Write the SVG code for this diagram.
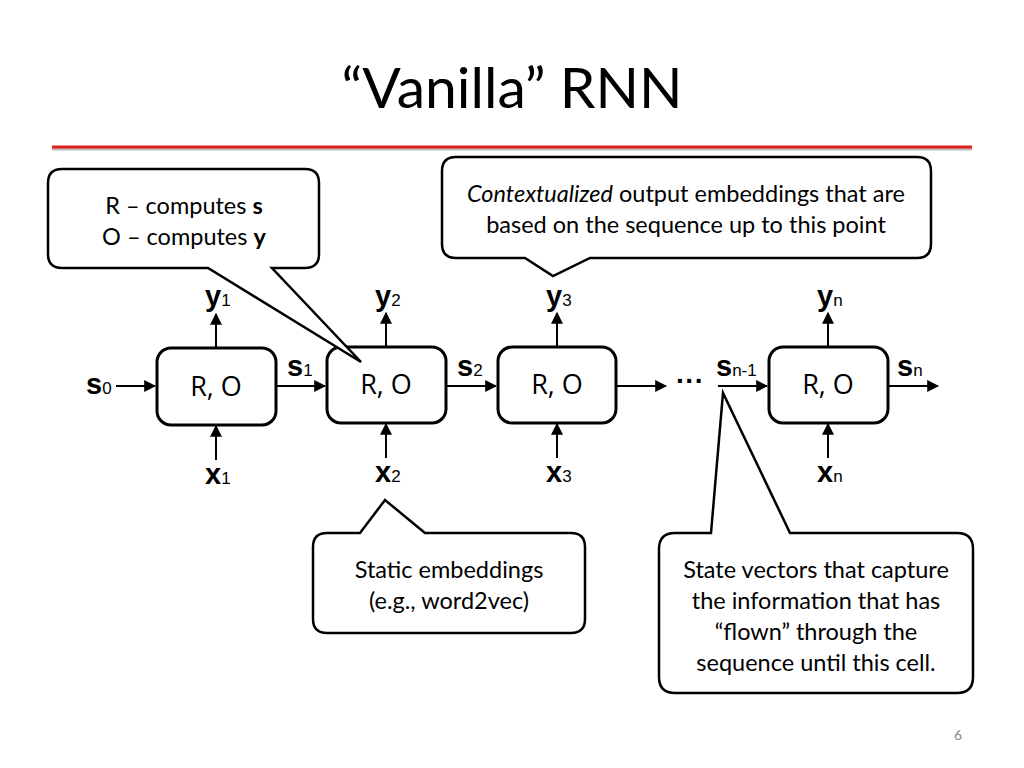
<svg xmlns="http://www.w3.org/2000/svg" width="1024" height="768" viewBox="0 0 1024 768">
<style>
.box{fill:#fff;stroke:#000;stroke-width:3}
.call{fill:#fff;stroke:#000;stroke-width:2.5;stroke-linejoin:miter}
.ln{stroke:#000;stroke-width:2;fill:none}
.t{font-family:"Open Sans","Liberation Sans",sans-serif;font-size:27px;text-anchor:middle}
.v{font-family:"Liberation Sans",sans-serif;font-weight:bold;font-size:29px}
.sub{font-family:"Liberation Sans",sans-serif;font-size:17px;font-weight:normal}
.c{font-family:Lato,"Liberation Sans",sans-serif;font-size:23.5px;text-anchor:middle}
</style>
<defs><marker id="a" viewBox="0 0 10 10" refX="9" refY="5" markerWidth="6" markerHeight="6" orient="auto"><path d="M0,0L10,5L0,10z"/></marker></defs>
<rect width="1024" height="768" fill="#fff"/>
<text x="512" y="108" font-family="Lato,'Liberation Sans',sans-serif" font-size="57" text-anchor="middle">“Vanilla” RNN</text>
<line x1="52" y1="149" x2="972" y2="149" stroke="#bbb" stroke-width="3"/>
<line x1="52" y1="147" x2="972" y2="147" stroke="#e02020" stroke-width="3"/>
<g id="connectors">
<line class="ln" x1="116" y1="386" x2="155" y2="386" marker-end="url(#a)"/>
<line class="ln" x1="277" y1="386" x2="325" y2="386" marker-end="url(#a)"/>
<line class="ln" x1="447" y1="386" x2="496" y2="386" marker-end="url(#a)"/>
<line class="ln" x1="617" y1="386" x2="666" y2="386" marker-end="url(#a)"/>
<line class="ln" x1="718" y1="386" x2="767" y2="386" marker-end="url(#a)"/>
<line class="ln" x1="889" y1="386" x2="938" y2="386" marker-end="url(#a)"/>
<line class="ln" x1="216" y1="348" x2="216" y2="314" marker-end="url(#a)"/>
<line class="ln" x1="386" y1="347" x2="386" y2="313" marker-end="url(#a)"/>
<line class="ln" x1="557" y1="347" x2="557" y2="313" marker-end="url(#a)"/>
<line class="ln" x1="828" y1="347" x2="828" y2="313" marker-end="url(#a)"/>
<line class="ln" x1="216" y1="460" x2="216" y2="426" marker-end="url(#a)"/>
<line class="ln" x1="386" y1="458" x2="386" y2="424" marker-end="url(#a)"/>
<line class="ln" x1="557" y1="458" x2="557" y2="424" marker-end="url(#a)"/>
<line class="ln" x1="828" y1="458" x2="828" y2="424" marker-end="url(#a)"/>
</g>
<g id="n1"><rect class="box" x="157" y="348" width="119" height="77" rx="14"/><text class="t" x="216" y="396">R, O</text></g>
<g id="n2"><rect class="box" x="327" y="347" width="119" height="76" rx="14"/><text class="t" x="386" y="394">R, O</text></g>
<g id="n3"><rect class="box" x="498" y="347" width="118" height="76" rx="14"/><text class="t" x="557" y="394">R, O</text></g>
<g id="n4"><rect class="box" x="769" y="347" width="119" height="76" rx="14"/><text class="t" x="828" y="394">R, O</text></g>
<g id="labels">
<text class="v" x="86" y="394">s<tspan class="sub">0</tspan></text>
<text class="v" x="287" y="376">s<tspan class="sub">1</tspan></text>
<text class="v" x="457" y="376">s<tspan class="sub">2</tspan></text>
<text class="v" x="716" y="376">s<tspan class="sub">n-1</tspan></text>
<text class="v" x="897" y="376">s<tspan class="sub">n</tspan></text>
<text class="v" x="205" y="306">y<tspan class="sub">1</tspan></text>
<text class="v" x="375" y="306">y<tspan class="sub">2</tspan></text>
<text class="v" x="546" y="306">y<tspan class="sub">3</tspan></text>
<text class="v" x="817" y="306">y<tspan class="sub">n</tspan></text>
<text class="v" x="205" y="484">x<tspan class="sub">1</tspan></text>
<text class="v" x="375" y="482">x<tspan class="sub">2</tspan></text>
<text class="v" x="546" y="482">x<tspan class="sub">3</tspan></text>
<text class="v" x="817" y="482">x<tspan class="sub">n</tspan></text>
<text x="690" y="390" font-family="Liberation Sans,sans-serif" font-size="28" font-weight="bold" text-anchor="middle">···</text>
</g>
<g id="callout1">
<path class="call" d="M62,169H305Q319,169 319,183V254Q319,268 305,268H272L361,362L208,268H62Q48,268 48,254V183Q48,169 62,169Z"/>
<text class="c" x="184" y="214">R – computes <tspan font-weight="bold">s</tspan></text>
<text class="c" x="184" y="245">O – computes <tspan font-weight="bold">y</tspan></text>
</g>
<g id="callout2">
<path class="call" d="M456,157H917Q931,157 931,171V244Q931,258 917,258H590L553,276L525,258H456Q442,258 442,244V171Q442,157 456,157Z"/>
<text class="c" x="686" y="202"><tspan font-style="italic">Contextualized</tspan> output embeddings that are</text>
<text class="c" x="686" y="233">based on the sequence up to this point</text>
</g>
<g id="callout3">
<path class="call" d="M327,533H360L385,500L425,533H571Q585,533 585,547V619Q585,633 571,633H327Q313,633 313,619V547Q313,533 327,533Z"/>
<text class="c" x="449" y="578">Static embeddings</text>
<text class="c" x="449" y="609">(e.g., word2vec)</text>
</g>
<g id="callout4">
<path class="call" d="M675,533H711L723,393L790,533H957Q973,533 973,549V677Q973,693 957,693H675Q659,693 659,677V549Q659,533 675,533Z"/>
<text class="c" x="816" y="578">State vectors that capture</text>
<text class="c" x="816" y="609">the information that has</text>
<text class="c" x="816" y="640">“flown” through the</text>
<text class="c" x="816" y="671">sequence until this cell.</text>
</g>
<text x="958" y="740" font-family="Lato,'Liberation Sans',sans-serif" font-size="14" fill="#888" text-anchor="middle">6</text>
</svg>
